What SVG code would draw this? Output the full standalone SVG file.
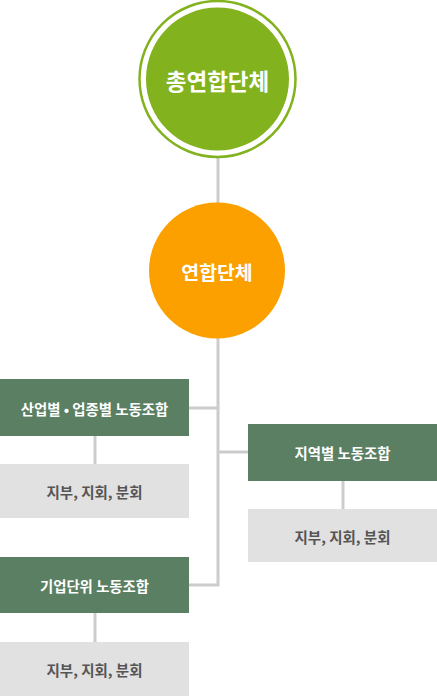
<svg xmlns="http://www.w3.org/2000/svg" width="437" height="696" viewBox="0 0 437 696">
<style>
text{font-family:"Noto Sans CJK KR","Noto Sans",sans-serif;font-weight:bold;text-anchor:middle;dominant-baseline:central}
.line{stroke:#cccccc;stroke-width:3;fill:none}
.g{fill:#5a7f63}
.s{fill:#e1e1e1}
.wt{fill:#ffffff;font-size:14.4px}
.dt{fill:#555555;font-size:14.5px}
</style>
<rect width="437" height="696" fill="#ffffff"/>
<g id="connectors">
<line class="line" x1="218" y1="157" x2="218" y2="203"/>
<polyline class="line" points="218,338 218,585 189,585"/>
<line class="line" x1="189" y1="408" x2="218" y2="408"/>
<line class="line" x1="218" y1="452" x2="248" y2="452"/>
<line class="line" x1="95" y1="436" x2="95" y2="464"/>
<line class="line" x1="343" y1="481" x2="343" y2="509"/>
<line class="line" x1="95" y1="613" x2="95" y2="642"/>
</g>
<g id="top">
<circle cx="217.5" cy="79" r="78" fill="#ffffff" stroke="#82b21e" stroke-width="2.5"/>
<circle cx="217.5" cy="79" r="71.5" fill="#82b21e"/>
<text x="217.5" y="80" fill="#ffffff" font-size="22.5">총연합단체</text>
</g>
<g id="mid">
<circle cx="217" cy="270.5" r="68" fill="#fca000"/>
<text x="217" y="271" fill="#ffffff" font-size="19.4">연합단체</text>
</g>
<g id="n1">
<rect class="g" x="0" y="379" width="189" height="57"/>
<text class="wt" x="94.5" y="408">산업별 • 업종별 노동조합</text>
</g>
<g id="n1s">
<rect class="s" x="0" y="464" width="189" height="54"/>
<text class="dt" x="94.5" y="491">지부, 지회, 분회</text>
</g>
<g id="n2">
<rect class="g" x="248" y="424" width="189" height="57"/>
<text class="wt" x="342.5" y="452.5">지역별 노동조합</text>
</g>
<g id="n2s">
<rect class="s" x="248" y="509" width="189" height="53"/>
<text class="dt" x="342.5" y="536">지부, 지회, 분회</text>
</g>
<g id="n3">
<rect class="g" x="0" y="557" width="189" height="56"/>
<text class="wt" x="94.5" y="585">기업단위 노동조합</text>
</g>
<g id="n3s">
<rect class="s" x="0" y="642" width="189" height="54"/>
<text class="dt" x="94.5" y="669">지부, 지회, 분회</text>
</g>
</svg>
